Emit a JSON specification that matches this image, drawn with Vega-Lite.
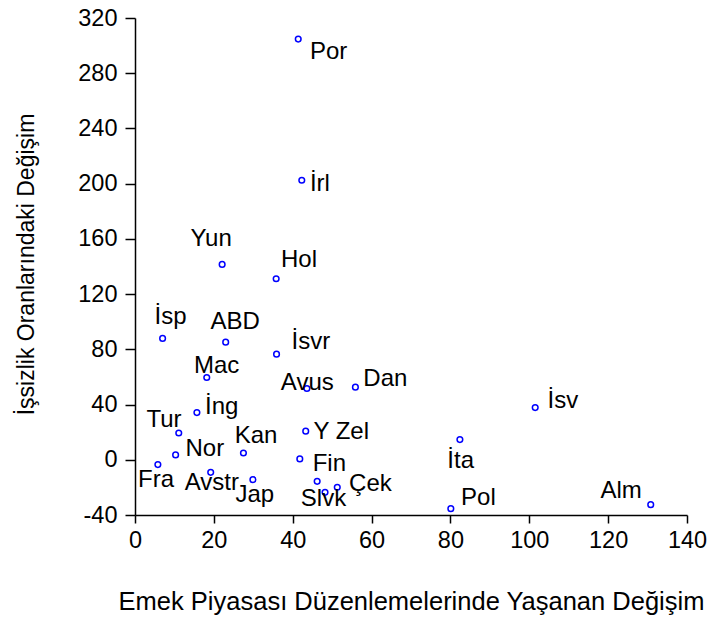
{
  "$schema": "https://vega.github.io/schema/vega-lite/v6.json",
  "autosize": "none",
  "width": 552,
  "height": 497,
  "padding": {"left": 135, "top": 18, "right": 22, "bottom": 102},
  "background": "white",
  "config": {"view": {"stroke": null}, "font": "Liberation Sans"},
  "data": {
    "values": [
      {"ulke": "Por", "emek": 41.4, "issizlik": 304.7, "etiket_x": 49.1, "etiket_y": 295.3},
      {"ulke": "İrl", "emek": 42.3, "issizlik": 202.5, "etiket_x": 46.9, "etiket_y": 200.0},
      {"ulke": "Yun", "emek": 22.1, "issizlik": 141.5, "etiket_x": 19.3, "etiket_y": 159.9},
      {"ulke": "Hol", "emek": 35.8, "issizlik": 131.1, "etiket_x": 41.6, "etiket_y": 144.7},
      {"ulke": "İsp", "emek": 7.0, "issizlik": 87.9, "etiket_x": 9.0, "etiket_y": 103.1},
      {"ulke": "ABD", "emek": 23.0, "issizlik": 85.2, "etiket_x": 25.4, "etiket_y": 99.6},
      {"ulke": "İsvr", "emek": 35.9, "issizlik": 76.5, "etiket_x": 44.6, "etiket_y": 85.2},
      {"ulke": "Mac", "emek": 18.2, "issizlik": 59.6, "etiket_x": 20.7, "etiket_y": 67.7},
      {"ulke": "Avus", "emek": 43.6, "issizlik": 51.6, "etiket_x": 43.7, "etiket_y": 55.8},
      {"ulke": "Dan", "emek": 55.9, "issizlik": 52.6, "etiket_x": 63.5, "etiket_y": 58.5},
      {"ulke": "İng", "emek": 15.7, "issizlik": 34.2, "etiket_x": 22.0, "etiket_y": 37.9},
      {"ulke": "Tur", "emek": 11.1, "issizlik": 19.4, "etiket_x": 7.35, "etiket_y": 28.9},
      {"ulke": "Y Zel", "emek": 43.3, "issizlik": 20.7, "etiket_x": 52.3, "etiket_y": 20.1},
      {"ulke": "Nor", "emek": 10.3, "issizlik": 3.5, "etiket_x": 17.7, "etiket_y": 7.8},
      {"ulke": "Kan", "emek": 27.5, "issizlik": 4.9, "etiket_x": 30.7, "etiket_y": 16.9},
      {"ulke": "Fin", "emek": 41.8, "issizlik": 0.6, "etiket_x": 49.3, "etiket_y": -3.0},
      {"ulke": "Fra", "emek": 5.8, "issizlik": -3.5, "etiket_x": 5.35, "etiket_y": -14.3},
      {"ulke": "Avstr", "emek": 19.2, "issizlik": -9.1, "etiket_x": 19.5, "etiket_y": -16.9},
      {"ulke": "Jap", "emek": 29.9, "issizlik": -14.4, "etiket_x": 30.4, "etiket_y": -25.5},
      {"ulke": "", "emek": 46.2, "issizlik": -15.6, "etiket_x": null, "etiket_y": null},
      {"ulke": "Slvk", "emek": 48.2, "issizlik": -23.6, "etiket_x": 47.8, "etiket_y": -28.4},
      {"ulke": "Çek", "emek": 51.3, "issizlik": -19.9, "etiket_x": 59.7, "etiket_y": -17.3},
      {"ulke": "İsv", "emek": 101.5, "issizlik": 37.8, "etiket_x": 108.5, "etiket_y": 42.6},
      {"ulke": "İta", "emek": 82.4, "issizlik": 14.6, "etiket_x": 82.6, "etiket_y": -0.9},
      {"ulke": "Pol", "emek": 80.1, "issizlik": -35.4, "etiket_x": 87.1, "etiket_y": -27.8},
      {"ulke": "Alm", "emek": 130.8, "issizlik": -32.5, "etiket_x": 123.3, "etiket_y": -22.5}
    ]
  },
  "layer": [
    {
      "mark": {"type": "point", "shape": "circle", "filled": false, "color": "#0000ff", "opacity": 1, "size": 32, "strokeWidth": 1.5},
      "encoding": {
        "x": {
          "field": "emek", "type": "quantitative",
          "scale": {"domain": [0, 140], "nice": false, "zero": false},
          "axis": {
            "title": "Emek Piyasası Düzenlemelerinde Yaşanan Değişim",
            "values": [0, 20, 40, 60, 80, 100, 120, 140],
            "grid": false,
            "domainColor": "black", "domainWidth": 1.5,
            "tickColor": "black", "tickWidth": 1.5, "tickSize": 8,
            "labelFontSize": 23.5, "labelColor": "black", "labelPadding": 5, "labelFlush": false, "labelOverlap": false,
            "titleFontSize": 25.5, "titleFontWeight": "normal", "titleColor": "black",
            "titleX": 276, "titleY": 94, "titleBaseline": "alphabetic", "titleAlign": "center"
          }
        },
        "y": {
          "field": "issizlik", "type": "quantitative",
          "scale": {"domain": [-40, 320], "nice": false, "zero": false},
          "axis": {
            "title": "İşsizlik Oranlarındaki Değişim",
            "values": [-40, 0, 40, 80, 120, 160, 200, 240, 280, 320],
            "labelExpr": "replace(datum.label, '\u2212', '-')",
            "grid": false,
            "domainColor": "black", "domainWidth": 1.5,
            "tickColor": "black", "tickWidth": 1.5, "tickSize": 10,
            "labelFontSize": 23.5, "labelColor": "black", "labelPadding": 8, "labelFlush": false, "labelOverlap": false,
            "titleFontSize": 23, "titleFontWeight": "normal", "titleColor": "black",
            "titleX": -102, "titleY": 246, "titleBaseline": "alphabetic", "titleAlign": "center", "titleAngle": -90
          }
        }
      }
    },
    {
      "transform": [{"filter": "datum.etiket_x != null"}],
      "mark": {"type": "text", "fontSize": 24, "color": "black", "align": "center", "baseline": "middle"},
      "encoding": {
        "x": {"field": "etiket_x", "type": "quantitative"},
        "y": {"field": "etiket_y", "type": "quantitative"},
        "text": {"field": "ulke"}
      }
    }
  ]
}
